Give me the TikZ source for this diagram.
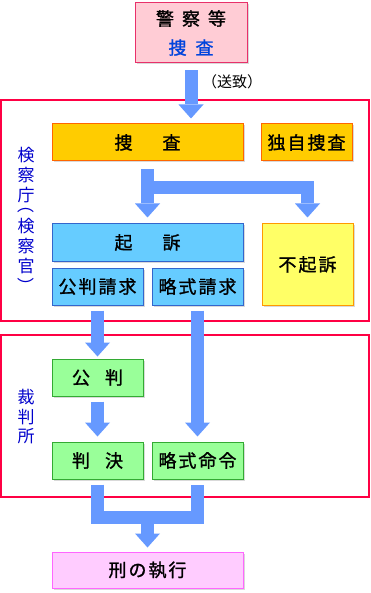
\documentclass[tikz,border=0pt]{standalone}
\usepackage{fontspec}
\newfontfamily\jp{Noto Sans CJK JP}
\newfontfamily\jpb[FakeBold=1.2]{Noto Sans CJK JP}
\usetikzlibrary{arrows.meta,shadows,calc}
\definecolor{arrowblue}{HTML}{6699FF}
\definecolor{framered}{HTML}{FF0044}
\definecolor{labelblue}{HTML}{0000CC}
\definecolor{policefill}{HTML}{FFCCD5}
\definecolor{policeline}{HTML}{E8306A}
\definecolor{orangefill}{HTML}{FFCC00}
\definecolor{orangeline}{HTML}{FF6600}
\definecolor{yellowfill}{HTML}{FFFF66}
\definecolor{yellowline}{HTML}{FF9900}
\definecolor{bluefill}{HTML}{66CCFF}
\definecolor{blueline}{HTML}{3366CC}
\definecolor{greenfill}{HTML}{99FF99}
\definecolor{greenline}{HTML}{33AA33}
\definecolor{pinkfill}{HTML}{FFCCFF}
\definecolor{pinkline}{HTML}{FF66FF}
\definecolor{textblue}{HTML}{0044DD}
\newcommand\jsp{\kern2pt}
\begin{document}
\begin{tikzpicture}[x=1pt,y=-1pt,
  box/.style={draw, line width=1pt, inner sep=0pt, font=\jpb\fontsize{18}{20}\selectfont,
    drop shadow={shadow xshift=1.5pt, shadow yshift=-1.5pt, opacity=0.15, fill=black}},
  frame/.style={draw=framered, line width=2pt, inner sep=0pt},
  fat/.style={draw=arrowblue, line width=13pt, line join=miter,
    -{Triangle[length=14pt,width=25pt,line width=0pt]}},
  fatbar/.style={draw=arrowblue, line width=13pt, line join=miter},
  vlab/.style={font=\jp\fontsize{17}{17}\selectfont, text=labelblue, inner sep=0pt}]
\useasboundingbox (0,0) rectangle (370,593);
\fill[white] (0,0) rectangle (370,593);

% frames
\node[frame, minimum width=368pt, minimum height=221pt] (kensatsu) at (185,210.5) {};
\node[frame, minimum width=368pt, minimum height=162pt] (saiban) at (185,416) {};

% police
\node[box, fill=policefill, draw=policeline, minimum width=112pt, minimum height=60pt,
  align=center, font=\jpb\fontsize{18}{29}\selectfont] (police) at (191,33)
  {警\kern8pt察\kern8pt等\\\textcolor{textblue}{捜\kern9pt査}};

% prosecutor boxes
\node[box, fill=orangefill, draw=orangeline, minimum width=191pt, minimum height=37pt] (sousa) at (147.5,142.5) {捜\hspace{30pt}査};
\node[box, fill=orangefill, draw=orangeline, minimum width=91pt, minimum height=37pt] (dokuji) at (306.5,142.5) {独\jsp 自\jsp 捜\jsp 査};
\node[box, fill=bluefill, draw=blueline, minimum width=191pt, minimum height=37pt] (kiso) at (147.5,242.5) {起\hspace{30pt}訴};
\node[box, fill=yellowfill, draw=yellowline, minimum width=91pt, minimum height=81pt] (fukiso) at (307.5,264.5) {不\jsp 起\jsp 訴};
\node[box, fill=bluefill, draw=blueline, minimum width=91pt, minimum height=37pt] (kohanseikyu) at (97.5,286.5) {公\jsp 判\jsp 請\jsp 求};
\node[box, fill=bluefill, draw=blueline, minimum width=91pt, minimum height=37pt] (ryakuseikyu) at (197.5,286.5) {略\jsp 式\jsp 請\jsp 求};

% court boxes
\node[box, fill=greenfill, draw=greenline, minimum width=91pt, minimum height=37pt] (kohan) at (97.5,377.5) {公\hspace{15pt}判};
\node[box, fill=greenfill, draw=greenline, minimum width=91pt, minimum height=37pt] (hanketsu) at (97.5,460.5) {判\hspace{15pt}決};
\node[box, fill=greenfill, draw=greenline, minimum width=91pt, minimum height=37pt] (ryakumeirei) at (197.5,460.5) {略\jsp 式\jsp 命\jsp 令};

% execution
\node[box, fill=pinkfill, draw=pinkline, minimum width=191pt, minimum height=36pt] (shikko) at (147.5,570) {刑\jsp の\jsp 執\jsp 行};

% vertical labels
\node[vlab] (k1) at (26,155.5) {検};
\node[vlab] (k2) at (26,175.5) {察};
\node[vlab] (k3) at (26,195.5) {庁};
\node[vlab, rotate=-90] (k4) at (26,205) {（};
\node[vlab] (k5) at (26,226) {検};
\node[vlab] (k6) at (26,246) {察};
\node[vlab] (k7) at (26,266) {官};
\node[vlab, rotate=-90] (k8) at (26,286) {）};
\node[vlab] (s1) at (26,397) {裁};
\node[vlab] (s2) at (26,417) {判};
\node[vlab] (s3) at (26,436) {所};

% sochi label
\node[font=\jp\fontsize{15}{15}\selectfont, inner sep=0pt] (sochi) at (232,82) {（送致）};

% arrows
\draw[fat] ($(police.south)+(0,7)$) -- ($(police.south |- sousa.north)+(0,-5)$);
\draw[fat] ($(sousa.south)+(0,8)$) -- ($(kiso.north)+(0,-6)$);
\draw[fat] ($(sousa.south)+(0,26.5)$) -| ($(fukiso.north)+(0,-6)$);
\draw[fat] ($(kohanseikyu.south)+(0,5)$) -- ($(kohan.north)+(0,-2)$);
\draw[fat] ($(ryakuseikyu.south)+(0,5)$) -- ($(ryakumeirei.north)+(0,-5)$);
\draw[fat] ($(kohan.south)+(0,5)$) -- ($(hanketsu.north)+(0,-5)$);
\coordinate (merge) at ($(shikko.north)+(0,-35)$);
\draw[fatbar] ($(hanketsu.south)+(0,5)$) |- ($(ryakumeirei.south)+(0,38)$) -- ($(ryakumeirei.south)+(0,5)$);
\draw[fat] (merge) -- ($(shikko.north)+(0,-4)$);
\end{tikzpicture}
\end{document}
